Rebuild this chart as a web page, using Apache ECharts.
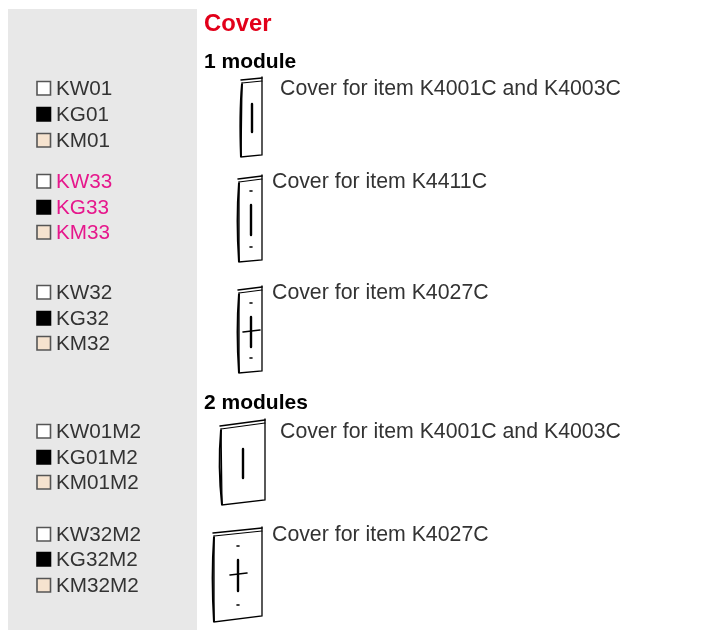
<!DOCTYPE html>
<html>
<head>
<meta charset="utf-8">
<style>
  html, body { margin: 0; padding: 0; background: #fff; }
  #main { width: 727px; height: 630px; }
</style>
<script src="https://cdn.jsdelivr.net/npm/echarts@6/dist/echarts.min.js"></script>
</head>
<body>
<div id="main"></div>
<script>
// 文本内容
var title = 'Cover';
var sections = ['1 module', '2 modules'];
var colorPrefixes = ['KW', 'KG', 'KM'];
var itemCodes = ['01', '33', '32', '01M2', '32M2'];
var descriptions = [
  'Cover for item K4001C and K4003C',
  'Cover for item K4411C',
  'Cover for item K4027C',
  'Cover for item K4001C and K4003C',
  'Cover for item K4027C'
];
var swatchColors = ['#ffffff', '#000000', '#f6e3cf'];

// 版面位置
var rowY = [
  [88, 114, 140],
  [181, 207, 232],
  [292, 318, 343],
  [431, 457, 482],
  [534, 559, 585]
];
var sectionY = [62, 403];
var descX = [280, 272, 272, 280, 272];
var pinkRow = 1;
// 盖板: 左上 右上 左下 右下, 竖槽, 横槽, 小孔
var covers = [
  { tl: [241, 80], tr: [262, 78], bl: [241, 157], br: [262, 155], slot: [252, 104, 132] },
  { tl: [238, 179], tr: [262, 176], bl: [239, 262], br: [262, 260], slot: [251, 205, 235], dots: [191, 247] },
  { tl: [238, 290], tr: [262, 287], bl: [239, 373], br: [262, 371], slot: [251, 317, 347], cross: [243, 260, 331], dots: [303, 358] },
  { tl: [220, 426], tr: [265, 420], bl: [222, 505], br: [265, 500], slot: [243, 449, 478] },
  { tl: [213, 533], tr: [262, 528], bl: [214, 622], br: [262, 616], slot: [238, 560, 591], cross: [230, 247, 574], dots: [546, 605] }
];

function line(points, width) {
  return {
    type: 'polyline',
    shape: { points: points },
    style: { stroke: '#000', fill: null, lineWidth: width, lineCap: 'round' }
  };
}

function label(x, y, text, color, font) {
  return {
    type: 'text',
    x: x,
    y: y,
    style: { text: text, fill: color, font: font, textAlign: 'left', textVerticalAlign: 'middle' }
  };
}

function drawCover(c) {
  var list = [];
  // 外框
  list.push(line([[c.tl[0] + 1, c.tl[1] + 3], c.bl, c.br, [c.tr[0], c.tr[1] - 1]], 1.3));
  // 顶边
  list.push(line([c.tl, c.tr], 1.5));
  list.push(line([[c.tl[0] + 1, c.tl[1] + 3], [c.tr[0], c.tr[1] + 3]], 1.1));
  // 左侧弧线
  var midY = (c.tl[1] + c.bl[1]) / 2;
  list.push({
    type: 'bezierCurve',
    shape: {
      x1: c.tl[0] + 1, y1: c.tl[1] + 4,
      cpx1: c.tl[0] - 1, cpy1: midY - 12,
      cpx2: c.tl[0] - 1, cpy2: midY + 12,
      x2: c.bl[0], y2: c.bl[1]
    },
    style: { stroke: '#000', fill: null, lineWidth: 2 }
  });
  // 竖槽
  list.push(line([[c.slot[0], c.slot[1]], [c.slot[0], c.slot[2]]], 2.4));
  if (c.cross) {
    list.push(line([[c.cross[0], c.cross[2] + 1], [c.cross[1], c.cross[2] - 1]], 1.6));
  }
  if (c.dots) {
    c.dots.forEach(function(y) {
      list.push(line([[c.slot[0] - 1, y], [c.slot[0] + 1, y]], 1.6));
    });
  }
  return list;
}

var elements = [{
  type: 'rect',
  shape: { x: 8, y: 9, width: 189, height: 621 },
  style: { fill: '#e8e8e8' }
}];

elements.push(label(204, 24, title, '#e2001a', 'bold 23.8px "Liberation Sans"'));
sections.forEach(function(text, i) {
  elements.push(label(204, sectionY[i], text, '#000', 'bold 21px "Liberation Sans"'));
});

itemCodes.forEach(function(code, row) {
  colorPrefixes.forEach(function(prefix, j) {
    var y = rowY[row][j];
    elements.push({
      type: 'rect',
      shape: { x: 37, y: y - 6.5, width: 13.5, height: 13.5 },
      style: { fill: swatchColors[j], stroke: j === 1 ? '#000' : '#555', lineWidth: 1.6 }
    });
    elements.push(label(56, y + 1, prefix + code, row === pinkRow ? '#e6178c' : '#333', '20.7px "Liberation Sans"'));
  });
  elements.push(label(descX[row], rowY[row][0] + 1, descriptions[row], '#333', '21.3px "Liberation Sans"'));
  elements = elements.concat(drawCover(covers[row]));
});

var myChart = echarts.init(document.getElementById('main'));
var option = {
  backgroundColor: '#fff',
  animation: false,
  graphic: { elements: elements }
};
myChart.setOption(option);
</script>
</body>
</html>
